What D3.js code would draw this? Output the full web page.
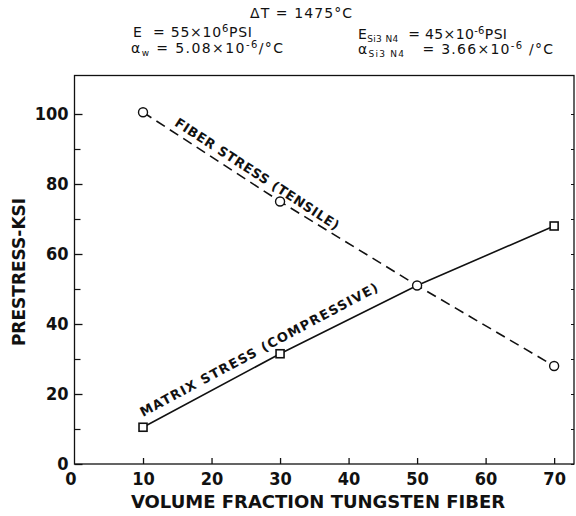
<!DOCTYPE html>
<html><head><meta charset="utf-8">
<script src="https://cdn.jsdelivr.net/npm/d3@7"></script>
<style>
body{margin:0;background:#fff;}
svg{display:block;}
</style></head>
<body><svg id="c" width="576" height="516"></svg>
<script>
const volumeFraction = [10, 30, 50, 70];
const fiberStress = [100.5, 75, 51, 28];
const matrixStress = [10.5, 31.5, 51, 68];
const yMajorTicks = [0, 20, 40, 60, 80, 100];
const yMinorTicks = [10, 30, 50, 70, 90];
const xTicks = [0, 10, 20, 30, 40, 50, 60, 70];
const xTitle = "VOLUME FRACTION TUNGSTEN FIBER";
const yTitle = "PRESTRESS-KSI";
const fiberLabel = "FIBER STRESS (TENSILE)";
const matrixLabel = "MATRIX STRESS (COMPRESSIVE)";

const svg = d3.select("#c");
const x = d3.scaleLinear().domain([0, 72.9]).range([74.5, 574]);
const y = d3.scaleLinear().domain([0, 111]).range([464, 75.5]);
const FONT = "'DejaVu Sans', sans-serif";
const TFONT = "'DejaVu Sans Condensed', 'DejaVu Sans', sans-serif";

// frame
svg.append("rect").attr("x", x(0)).attr("y", y(111))
  .attr("width", x(72.9) - x(0)).attr("height", y(0) - y(111))
  .attr("fill", "none").attr("stroke", "#111").attr("stroke-width", 1.3);

// y axis
const gy = svg.append("g").attr("transform", `translate(${x(0)},0)`)
  .call(d3.axisLeft(y).tickValues(yMajorTicks).tickSize(-8).tickPadding(6).tickFormat(d3.format("d")));
gy.select(".domain").remove();
gy.selectAll("text").attr("font-family", TFONT).attr("font-weight", "bold").attr("font-size", 18).attr("fill", "#111");
gy.selectAll("line").attr("stroke", "#111").attr("stroke-width", 1.3);
const gym = svg.append("g").attr("transform", `translate(${x(0)},0)`)
  .call(d3.axisLeft(y).tickValues(yMinorTicks).tickSize(-6).tickFormat(""));
gym.select(".domain").remove();
gym.selectAll("line").attr("stroke", "#111").attr("stroke-width", 1.2);
const gyr = svg.append("g").attr("transform", `translate(${x(72.9)},0)`)
  .call(d3.axisRight(y).tickValues(yMajorTicks.concat(yMinorTicks)).tickSize(-3).tickFormat(""));
gyr.select(".domain").remove();
gyr.selectAll("line").attr("stroke", "#111").attr("stroke-width", 1);

// x axis
const gx = svg.append("g").attr("transform", `translate(0,${y(0)})`)
  .call(d3.axisBottom(x).tickValues(xTicks).tickSize(-6).tickPadding(8).tickFormat(d3.format("d")));
gx.select(".domain").remove();
gx.selectAll("text").attr("font-family", TFONT).attr("font-weight", "bold").attr("font-size", 18).attr("fill", "#111");
gx.selectAll("line").attr("stroke", "#111").attr("stroke-width", 1.3);
gx.selectAll(".tick").filter(d => d === 0).select("line").remove();
gx.selectAll(".tick").filter(d => d === 0).select("text").attr("dx", -4);

// titles
svg.append("text").attr("x", 318).attr("y", 508).attr("text-anchor", "middle")
  .attr("font-family", FONT).attr("font-weight", "bold").attr("font-size", 18).attr("fill", "#111").text(xTitle);
svg.append("text").attr("transform", "translate(25,272) rotate(-90)").attr("text-anchor", "middle")
  .attr("font-family", FONT).attr("font-weight", "bold").attr("font-size", 17).attr("fill", "#111").text(yTitle);

// lines
const fiberData = volumeFraction.map((v, i) => [v, fiberStress[i]]);
const matrixData = volumeFraction.map((v, i) => [v, matrixStress[i]]);
const line = d3.line().x(d => x(d[0])).y(d => y(d[1]));
svg.append("path").attr("d", line(fiberData)).attr("fill", "none").attr("stroke", "#111")
  .attr("stroke-width", 1.6).attr("stroke-dasharray", "10,6");
svg.append("path").attr("d", line(matrixData)).attr("fill", "none").attr("stroke", "#111")
  .attr("stroke-width", 1.6);

// markers
svg.selectAll("circle.f").data(fiberData).enter().append("circle")
  .attr("cx", d => x(d[0])).attr("cy", d => y(d[1])).attr("r", 4.5)
  .attr("fill", "#fff").attr("stroke", "#111").attr("stroke-width", 1.4);
svg.selectAll("rect.m").data(matrixData.filter(d => d[0] !== 50)).enter().append("rect")
  .attr("x", d => x(d[0]) - 4).attr("y", d => y(d[1]) - 4).attr("width", 8).attr("height", 8)
  .attr("fill", "#fff").attr("stroke", "#111").attr("stroke-width", 1.6);

// line labels
function lineLabel(data, i0, t, txt, off, len, fs) {
  const a = data[i0], b = data[i0 + 1];
  const xv = a[0] + t * (b[0] - a[0]), yv = a[1] + t * (b[1] - a[1]);
  const ang = Math.atan2(y(b[1]) - y(a[1]), x(b[0]) - x(a[0])) * 180 / Math.PI;
  svg.append("text").attr("transform", `translate(${x(xv)},${y(yv)}) rotate(${ang})`)
    .attr("dy", off).attr("font-family", FONT).attr("font-weight", "bold").attr("font-size", fs)
    .attr("fill", "#111").attr("textLength", len).attr("lengthAdjust", "spacing").text(txt);
}
lineLabel(fiberData, 0, 0.2, fiberLabel, -6, 193, 13);
lineLabel(matrixData, 0, 0.03, matrixLabel, -9, 268, 13);

// header
const hdr = svg.append("g").attr("font-family", FONT).attr("font-size", 14).attr("fill", "#111");
function rich(xp, yp, len, parts) {
  const t = hdr.append("text").attr("x", xp).attr("y", yp).attr("xml:space", "preserve");
  parts.forEach(p => {
    const s = t.append("tspan").text(p[0]);
    if (p[1] === "sup") s.attr("baseline-shift", "5").attr("font-size", 10);
    if (p[1] === "sub") s.attr("baseline-shift", "-3").attr("font-size", 9);
  });
  if (len) t.attr("textLength", len).attr("lengthAdjust", "spacing");
  return t;
}
rich(250, 18, 102, [["ΔT = 1475°C"]]);
rich(133, 37, 119, [["E  = 55×10"], ["6", "sup"], ["PSI"]]);
rich(131, 53, 152, [["α"], ["w", "sub"], [" = 5.08×10"], ["-6", "sup"], ["/°C"]]);
rich(358, 39, 149, [["E"], ["Si", "sub"], ["3", "sub"], [" N", "sub"], ["4", "sub"], ["  = 45×10"], ["-6", "sup"], ["PSI"]]);
rich(358, 54, 195, [["α"], ["Si", "sub"], ["3", "sub"], [" N", "sub"], ["4", "sub"], ["   = 3.66×10"], ["-6", "sup"], [" /°C"]]);
</script></body></html>
